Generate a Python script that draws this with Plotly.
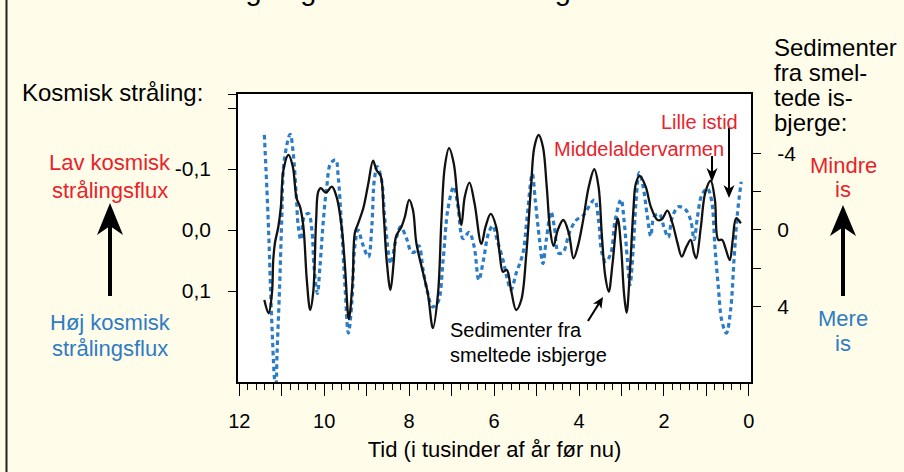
import plotly.graph_objects as go

# ---- data (time in thousand years before present) ----
sed_years = [11.41, 11.31, 11.23, 11.20, 11.16, 11.08, 11.02, 10.96, 10.84, 10.74, 10.65, 10.57, 10.49, 10.41,
             10.33, 10.26, 10.19, 10.14, 10.08, 9.96, 9.82, 9.71, 9.59, 9.51, 9.42, 9.33, 9.28, 9.20, 9.08,
             8.96, 8.85, 8.77, 8.67, 8.60, 8.53, 8.44, 8.36, 8.31, 8.18, 8.10, 8.00, 7.91, 7.83, 7.67, 7.56,
             7.44, 7.32, 7.24, 7.16, 7.06, 6.95, 6.85, 6.77, 6.69, 6.58, 6.46, 6.30, 6.20, 6.08, 5.95, 5.87,
             5.79, 5.70, 5.60, 5.48, 5.36, 5.24, 5.13, 5.05, 4.95, 4.85, 4.76, 4.68, 4.60, 4.50, 4.37, 4.24,
             4.13, 4.03, 3.91, 3.77, 3.64, 3.54, 3.46, 3.38, 3.30, 3.21, 3.09, 3.01, 2.94, 2.88, 2.80, 2.72,
             2.66, 2.57, 2.43, 2.31, 2.15, 2.05, 1.92, 1.80, 1.68, 1.58, 1.47, 1.37, 1.29, 1.24, 1.13, 1.03,
             0.90, 0.80, 0.72, 0.63, 0.55, 0.45, 0.38, 0.30, 0.19]
sediment = [3.66, 4.35, 3.29, 1.57, 0.68, -0.17, -1.22, -3.13, -3.92, -3.31, -1.66, -1.22, -0.17, 2.61,
            4.18, 3.29, -0.52, -2.00, -2.18, -1.95, -2.26, -1.74, -0.17, 1.92, 4.66, 2.61, 0.17, -0.35, -1.13,
            -2.44, -3.62, -3.13, -2.82, -0.87, 1.57, 3.13, 1.57, 0.35, -0.17, -0.69, -1.57, -1.04, 0.68, 2.26, 3.31,
            5.13, 3.31, -0.52, -3.31, -4.27, -3.48, -1.39, -0.26, -1.74, -2.47, -1.39, 0.73, -0.17, -0.84, -0.17, 1.22,
            2.18, 2.09, 3.13, 4.18, 3.66, 1.22, -2.26, -4.35, -4.96, -4.35, -2.26, 0.00, 0.84, 0.00, -0.52, 0.17,
            1.48, 0.87, -0.42, -2.26, -3.17, -2.26, 0.35, 2.44, 3.22, 1.74, -0.61, 0.87, 3.31, 4.32, 2.09, -1.04,
            -2.44, -2.82, -2.26, -1.22, -0.52, -0.56, -1.01, -0.35, 0.69, 1.39, 0.87, 0.52, 1.22, 1.48, -0.17, -1.92,
            -2.57, -1.57, 0.52, 0.52, 0.96, 1.57, 0.52, -0.61, -0.35]

cos_years = [11.41, 11.37, 11.31, 11.26, 11.21, 11.17, 11.14, 11.11, 11.05, 11.00, 10.94, 10.80, 10.73, 10.66,
             10.61, 10.55, 10.47, 10.37, 10.29, 10.24, 10.16, 10.10, 10.02, 9.94, 9.85, 9.73, 9.67, 9.59, 9.51,
             9.43, 9.35, 9.28, 9.20, 9.10, 8.96, 8.88, 8.82, 8.75, 8.65, 8.57, 8.43, 8.33, 8.20, 8.06, 7.95,
             7.87, 7.77, 7.67, 7.56, 7.45, 7.32, 7.20, 7.09, 6.95, 6.85, 6.73, 6.59, 6.47, 6.36, 6.25, 6.13,
             6.03, 5.93, 5.79, 5.70, 5.60, 5.48, 5.32, 5.23, 5.10, 5.03, 4.93, 4.85, 4.77, 4.66, 4.58, 4.48,
             4.37, 4.23, 4.07, 3.91, 3.64, 3.54, 3.46, 3.37, 3.25, 3.15, 3.01, 2.94, 2.86, 2.80, 2.72, 2.66,
             2.58, 2.49, 2.39, 2.31, 2.23, 2.11, 2.00, 1.90, 1.80, 1.66, 1.50, 1.37, 1.29, 1.21, 1.11, 0.98,
             0.88, 0.80, 0.72, 0.64, 0.53, 0.43, 0.35, 0.27, 0.18]
cosmic = [-0.156, -0.098, 0.000, 0.104, 0.191, 0.246, 0.265, 0.202, 0.093, -0.016, -0.115, -0.157, -0.126, -0.060,
          -0.005, 0.016, -0.022, -0.027, 0.000, 0.060, 0.104, 0.060, -0.016, -0.071, -0.109, -0.115, -0.087, -0.005, 0.093,
          0.169, 0.120, 0.027, 0.000, 0.022, 0.044, -0.005, -0.082, -0.104, -0.082, -0.016, 0.055, 0.022, -0.005, 0.014, 0.036,
          0.036, 0.026, 0.066, 0.104, 0.126, 0.118, 0.049, -0.033, -0.071, -0.038, 0.014, 0.004, 0.027, 0.082, 0.049, 0.005,
          -0.007, 0.016, 0.049, 0.077, 0.098, 0.071, 0.038, -0.016, -0.092, -0.049, 0.016, 0.055, 0.016, -0.030, -0.005, 0.038,
          0.036, 0.005, -0.016, -0.023, -0.049, -0.016, 0.038, 0.052, 0.038, -0.016, -0.050, -0.016, 0.049, 0.090, 0.027, -0.044,
          -0.094, -0.071, -0.022, 0.010, -0.022, -0.026, -0.005, 0.012, -0.022, -0.038, -0.034, -0.016, 0.016, -0.022, -0.057, -0.068,
          -0.049, 0.027, 0.093, 0.148, 0.169, 0.131, 0.049, -0.027, -0.079]

x_tickvals = list(range(0, 13))
x_ticktext = [str(v) if v % 2 == 0 else "" for v in x_tickvals]
left_tickvals = [-0.223, -0.2, -0.1, 0.0, 0.1]
left_ticktext = ["", "", "-0,1", "0,0", "0,1"]
right_tickvals = [-4, -2, 0, 2, 4]
right_ticktext = ["-4", "", "0", "", "4"]

# ---- layout geometry helpers (pixels -> paper) ----
W, H = 904, 472
L, R, T, B = 238, 751, 94, 382
FONT = "Liberation Sans, Arial, Helvetica, sans-serif"
RED = "#e8232b"
BLUE = "#2d7cc4"
BG = "#fffdea"


def P(px, py):
    return (px - L) / (R - L), (B - py) / (B - T)


fig = go.Figure()
fig.add_trace(go.Scatter(x=cos_years, y=cosmic, mode="lines", yaxis="y",
                         line=dict(color="#2b7cc6", width=3.2, dash="4.5px,3.5px", shape="spline", smoothing=1.0),
                         showlegend=False, hoverinfo="skip"))
fig.add_trace(go.Scatter(x=sed_years, y=sediment, mode="lines", yaxis="y2",
                         line=dict(color="#111111", width=2.3, shape="spline", smoothing=1.0),
                         showlegend=False, hoverinfo="skip"))

annotations = []


def text(px, py, s, size, color="black", xanchor="center"):
    x, y = P(px, py)
    annotations.append(dict(x=x, y=y, xref="paper", yref="paper", text=s, showarrow=False,
                            xanchor=xanchor, yanchor="middle",
                            font=dict(family=FONT, size=size, color=color)))


# title (mostly above the visible area)
text(187, -10, "Svingninger i kosmisk stråling", 29, xanchor="left")

text(20, 93, "Kosmisk stråling:", 24, xanchor="left")
text(110, 162, "Lav kosmisk", 22, RED)
text(110, 190, "strålingsflux", 22, RED)
text(110, 322, "Høj kosmisk", 22, BLUE)
text(110, 348, "strålingsflux", 22, BLUE)

text(772, 48, "Sedimenter", 24, xanchor="left")
text(772, 73, "fra smel-", 24, xanchor="left")
text(772, 98, "tede is-", 24, xanchor="left")
text(772, 122, "bjerge:", 24, xanchor="left")
text(843, 165, "Mindre", 22, RED)
text(843, 189, "is", 22, RED)
text(843, 318, "Mere", 22, BLUE)
text(843, 343, "is", 22, BLUE)

text(659, 122, "Lille istid", 20, RED, xanchor="left")
text(552, 149, "Middelaldervarmen", 20, RED, xanchor="left")
text(448, 330, "Sedimenter fra", 20, xanchor="left")
text(448, 355, "smeltede isbjerge", 20, xanchor="left")

shapes = []


def arrow(tx, ty, hx, hy, head_len, head_w, lw):
    dx, dy = hx - tx, hy - ty
    d = (dx * dx + dy * dy) ** 0.5
    ux, uy = dx / d, dy / d
    nx, ny = -uy, ux
    bx, by = hx - ux * head_len, hy - uy * head_len
    kx, ky = hx - ux * head_len * 0.72, hy - uy * head_len * 0.72
    x0, y0 = P(tx, ty)
    x1, y1 = P(kx + ux * 1, ky + uy * 1)
    shapes.append(dict(type="line", xref="paper", yref="paper", x0=x0, y0=y0, x1=x1, y1=y1,
                       line=dict(color="black", width=lw)))
    pts = [P(hx, hy), P(bx + nx * head_w / 2, by + ny * head_w / 2), P(kx, ky),
           P(bx - nx * head_w / 2, by - ny * head_w / 2)]
    path = "M " + " L ".join(f"{x:.5f},{y:.5f}" for x, y in pts) + " Z"
    shapes.append(dict(type="path", xref="paper", yref="paper", path=path,
                       fillcolor="black", line=dict(width=0)))


arrow(110, 296, 110, 203, 32, 26, 4)
arrow(843, 296, 843, 205, 31, 26, 4)
arrow(712, 156, 712, 182, 14, 11, 2)
arrow(729, 128, 729, 198, 13, 11, 2)
arrow(588, 321, 603, 297, 11, 10, 2)

bx0, by0 = P(6.5, 0)
bx1, by1 = P(6.5, 472)
shapes.append(dict(type="line", xref="paper", yref="paper", x0=bx0, y0=by0, x1=bx1, y1=by1,
                   line=dict(color="#222222", width=2)))

fig.update_layout(
    width=W, height=H, autosize=False,
    margin=dict(l=L, r=W - R, t=T, b=H - B, pad=0),
    paper_bgcolor=BG, plot_bgcolor="white",
    font=dict(family=FONT, color="black"),
    xaxis=dict(range=[12.03, -0.05], showgrid=False, zeroline=False,
               showline=True, linecolor="black", linewidth=1.5, mirror=True,
               ticks="outside", ticklen=12, tickwidth=1.2, tickcolor="black",
               tickmode="array", tickvals=x_tickvals, ticktext=x_ticktext,
               tickfont=dict(size=20, family=FONT), ticklabelstandoff=8,
               minor=dict(ticks="outside", ticklen=6, tickwidth=1, tickcolor="black", dtick=0.2, tick0=0,
                          showgrid=False),
               title=dict(text="Tid (i tusinder af år før nu)", font=dict(size=22, family=FONT), standoff=11)),
    yaxis=dict(range=[0.2492, -0.2230], showgrid=False, zeroline=False,
               showline=True, linecolor="black", linewidth=1.5, mirror=True,
               ticks="outside", ticklen=8, tickwidth=1.2, tickcolor="black",
               tickmode="array", tickvals=left_tickvals, ticktext=left_ticktext,
               tickfont=dict(size=21, family=FONT), ticklabelstandoff=13),
    yaxis2=dict(range=[7.94, -7.10], overlaying="y", side="right", showgrid=False, zeroline=False,
                showline=False, ticks="outside", ticklen=9, tickwidth=1.2, tickcolor="black",
                tickmode="array", tickvals=right_tickvals, ticktext=right_ticktext,
                tickfont=dict(size=21, family=FONT), ticklabelstandoff=12),
    annotations=annotations,
    shapes=shapes,
    showlegend=False,
)

fig.write_html("out.html", config={"displayModeBar": False},
               post_script="document.body.style.margin='0';document.body.style.padding='0';")
